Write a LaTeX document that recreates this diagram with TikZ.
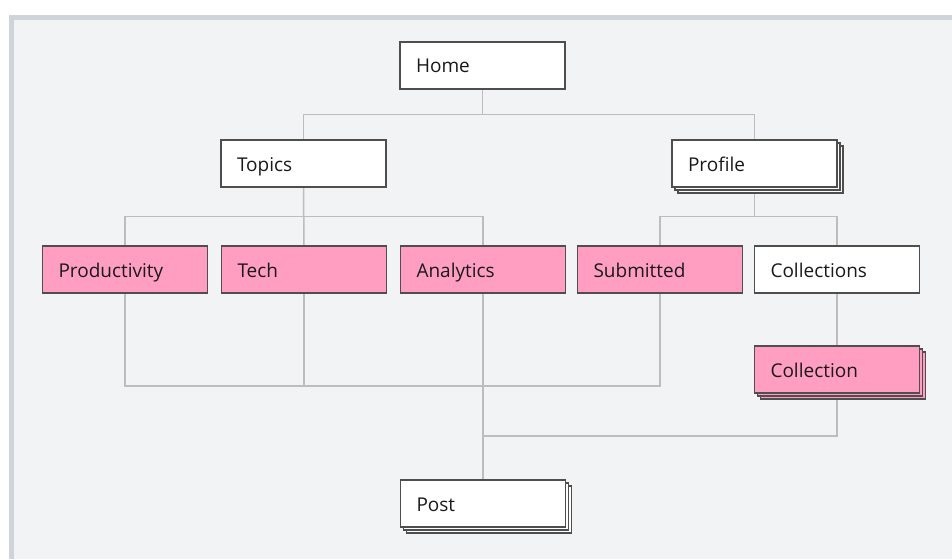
\documentclass[tikz,border=0pt]{standalone}
\usepackage{fontspec}
\setmainfont{Open Sans}
\usetikzlibrary{calc}
\definecolor{canvas}{HTML}{F1F3F5}
\definecolor{frame}{HTML}{CFD3DA}
\definecolor{boxline}{HTML}{4E4E4E}
\definecolor{wire}{HTML}{BDBDBD}
\definecolor{pinkish}{HTML}{FF9EC0}
\definecolor{ink}{HTML}{1A1A1A}
\pgfdeclarelayer{canvaslayer}
\pgfdeclarelayer{wirelayer}
\pgfsetlayers{canvaslayer,wirelayer,main}

\begin{document}
\begin{tikzpicture}[x=1pt, y=-1pt,
  page/.style={draw=boxline, line width=1.2pt, fill=white, text=ink,
    font=\fontsize{19}{22}\selectfont, align=left, text width=133pt,
    text height=16pt, text depth=1pt,
    inner xsep=16pt, inner ysep=0pt, minimum height=47pt},
  tag/.style={page, fill=pinkish},
  pile/.style={
    preaction={draw=boxline, line width=1.2pt, fill=#1,
      transform canvas={shift={(6pt,-6pt)}}},
    preaction={draw=boxline, line width=1.2pt, fill=#1,
      transform canvas={shift={(3pt,-3pt)}}}},
  link/.style={draw=wire, line width=1.5pt}]

% Background
\useasboundingbox (0,0) rectangle (952,559);
\begin{pgfonlayer}{canvaslayer}
\fill[white] (0,0) rectangle (952,559);
\fill[frame] (9,15) rectangle (952,559);
\fill[canvas] (14,20) rectangle (952,559);
\end{pgfonlayer}

% ================================================================
% Pages
% ================================================================
\node[page] (home) at (482.5,65.5) {Home};

\node[page] (topics) at (303.5,163.5) {Topics};
\node[page, pile=white] (profile) at (754.5,163.5) {Profile};

\node[tag] (productivity) at (125,269.5) {Productivity};
\node[tag] (tech) at (304,269.5) {Tech};
\node[tag] (analytics) at (483,269.5) {Analytics};
\node[tag] (submitted) at (660,269.5) {Submitted};
\node[page] (collections) at (837,269.5) {Collections};

\node[tag, pile=pinkish] (collection) at (837,369.5) {Collection};

\node[page, pile=white] (post) at (483,503.5) {Post};

% Free ends where the links meet
\coordinate (meetA) at (483,386);
\coordinate (meetB) at (483,436);

% ================================================================
% Links
% ================================================================
\begin{pgfonlayer}{wirelayer}
\draw[link] (home.south) -- ++(0,25) -| (topics.north);
\draw[link] (home.south) -- ++(0,25) -| (profile.north);

\draw[link] (topics.south) -- ++(0,29) -| (productivity.north);
\draw[link] (topics.south) -- (tech.north);
\draw[link] (topics.south) -- ++(0,29) -| (analytics.north);

\draw[link] (profile.south) -- ++(0,29) -| (submitted.north);
\draw[link] (profile.south) -- ++(0,29) -| (collections.north);
\draw[link] (collections.south) -- (collection.north);

\draw[link] (productivity.south) |- (meetA);
\draw[link] (submitted.south) |- (meetA);
\draw[link] (tech.south) -- (tech.south |- meetA);
\draw[link] (analytics.south) -- (post.north);
\draw[link] (collection.south) |- (meetB);
\end{pgfonlayer}

\end{tikzpicture}
\end{document}
